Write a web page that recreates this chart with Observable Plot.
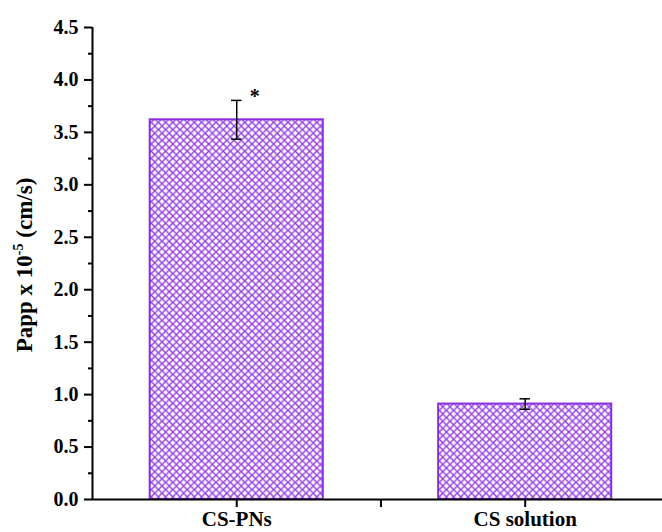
<!DOCTYPE html>
<html>
<head>
<meta charset="utf-8">
<script src="https://cdn.jsdelivr.net/npm/d3@7"></script>
<script src="https://cdn.jsdelivr.net/npm/@observablehq/plot@0.6"></script>
<style>
  html, body { margin: 0; padding: 0; background: #fff; }
  #chart svg { display: block; }
</style>
</head>
<body>
<div id="chart"></div>
<script>
// ---- data ----
const categories = ["CS-PNs", "CS solution"];
const papp = [3.62, 0.91];          // Papp x 10^-5 (cm/s)
const errors = [0.185, 0.05];
const significance = ["*", ""];
const yMajorTicks = [0, 0.5, 1, 1.5, 2, 2.5, 3, 3.5, 4, 4.5];
const yMinorTicks = [0.25, 0.75, 1.25, 1.75, 2.25, 2.75, 3.25, 3.75, 4.25];
const yTitle = ["Papp x 10", "-5", " (cm/s)"];

const barPad = 0.2;     // fraction of category slot left empty each side
const capHalf = 0.018;  // half width of the error-bar caps (x units)

const rows = categories.map((c, i) => ({
  cat: c, i, x: i + 0.5, v: papp[i], e: errors[i], sig: significance[i]
}));
const xLabelTicks = rows.map(d => d.x);
const xBoundaryTicks = categories.slice(1).map((c, i) => i + 1);
const xLabelOf = new Map(rows.map(d => [d.x, d.cat]));

const purple = "#8b2be2";
const font = "'Liberation Serif', 'Times New Roman', serif";

const chart = Plot.plot({
  width: 662,
  height: 532,
  marginLeft: 92,
  marginRight: 0,
  marginTop: 27,
  marginBottom: 33,
  style: {fontFamily: font, fontWeight: "bold", color: "#000", background: "#fff", overflow: "visible"},
  x: {type: "linear", domain: [0, 1.976], axis: null},
  y: {domain: [0, 4.5], axis: null},
  marks: [
    Plot.rectY(rows, {
      x1: d => d.i + barPad, x2: d => d.i + 1 - barPad, y: "v",
      fill: "url(#xhatch)", stroke: purple, strokeWidth: 2
    }),
    Plot.ruleX(rows, {x: "x", y1: d => d.v - d.e, y2: d => d.v + d.e, stroke: "#000", strokeWidth: 1.5}),
    Plot.ruleY(rows, {x1: d => d.x - capHalf, x2: d => d.x + capHalf, y: d => d.v + d.e, stroke: "#000", strokeWidth: 1.5}),
    Plot.ruleY(rows, {x1: d => d.x - capHalf, x2: d => d.x + capHalf, y: d => d.v - d.e, stroke: "#000", strokeWidth: 1.5}),
    Plot.text(rows.filter(d => d.sig), {
      x: "x", y: d => d.v + d.e, text: "sig", dx: 18, dy: -4,
      fontSize: 20, fontWeight: "bold", fill: "#000"
    }),
    Plot.axisY(yMajorTicks, {
      tickSize: 8, tickPadding: 6, strokeWidth: 2, fontSize: 20,
      tickFormat: d3.format(".1f"), label: null
    }),
    Plot.axisY(yMinorTicks, {tickSize: 4, strokeWidth: 2, tickFormat: () => "", label: null}),
    Plot.axisX(xLabelTicks.concat(xBoundaryTicks), {
      tickSize: 8, tickPadding: 4, strokeWidth: 2, fontSize: 21,
      tickFormat: d => xLabelOf.get(d) ?? "", label: null
    }),
    Plot.ruleY([0], {stroke: "#000", strokeWidth: 2}),
    Plot.ruleX([0], {stroke: "#000", strokeWidth: 2})
  ]
});

// hatch pattern definition
const svg = d3.select(chart);
const defs = svg.insert("defs", ":first-child");
const pat = defs.append("pattern")
  .attr("id", "xhatch")
  .attr("patternUnits", "userSpaceOnUse")
  .attr("width", 7.2).attr("height", 7.2);
pat.append("rect").attr("width", 7.2).attr("height", 7.2).attr("fill", "#fdf8ff");
pat.append("path")
  .attr("d", "M-1,-1 L8.2,8.2 M-1,8.2 L8.2,-1")
  .attr("stroke", "#9440e0").attr("stroke-width", 1.4).attr("fill", "none");

// y-axis title with superscript
const t = svg.append("text")
  .attr("transform", "translate(32,265) rotate(-90)")
  .attr("text-anchor", "middle")
  .attr("font-family", font)
  .attr("font-weight", "bold")
  .attr("font-size", 23)
  .attr("fill", "#000");
t.append("tspan").text(yTitle[0]);
t.append("tspan").attr("font-size", 14).attr("dy", -9).text(yTitle[1]);
t.append("tspan").attr("dy", 9).text(yTitle[2]);

document.getElementById("chart").appendChild(chart);
</script>
</body>
</html>
